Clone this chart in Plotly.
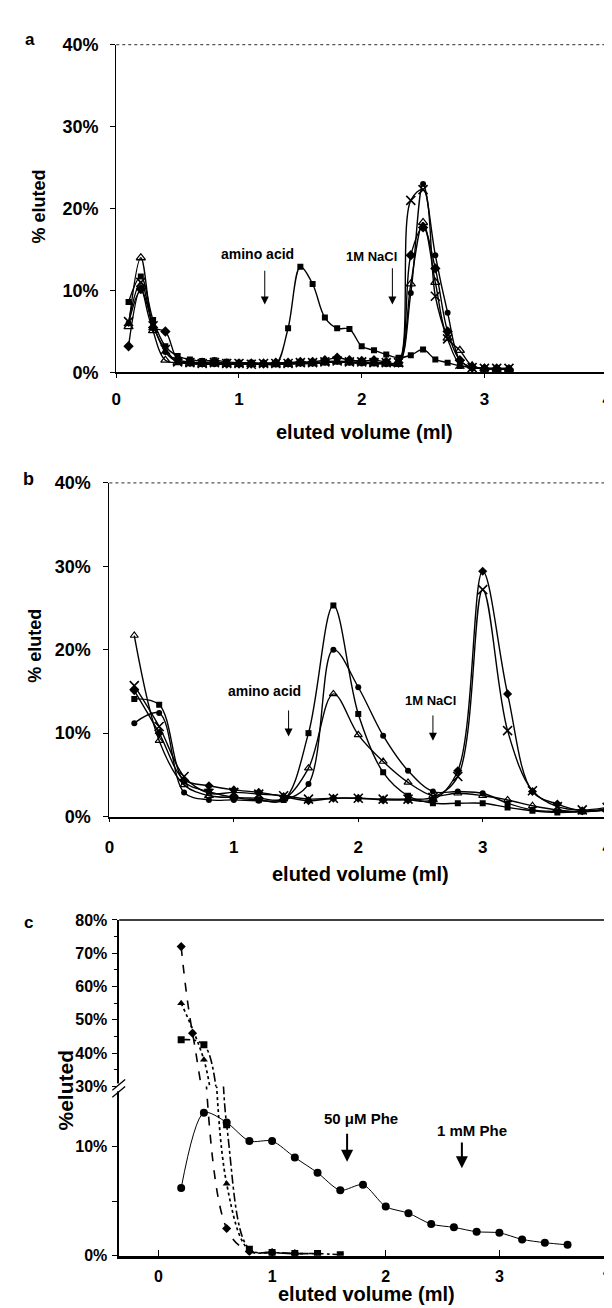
import plotly.graph_objects as go

W, H = 612, 1308

# ---------------- data ----------------
# panel a
a_x = [0.1, 0.2, 0.3, 0.4, 0.5, 0.6, 0.7, 0.8, 0.9, 1.0, 1.1, 1.2, 1.3, 1.4, 1.5, 1.6,
       1.7, 1.8, 1.9, 2.0, 2.1, 2.2, 2.3, 2.4, 2.5, 2.6, 2.7, 2.8, 2.9, 3.0, 3.1, 3.2]
a_square = [8.6, 11.7, 6.4, 3.2, 2.0, 1.6, 1.4, 1.5, 1.3, 1.2, 1.2, 1.1, 1.0, 5.4, 12.9, 10.8,
            6.7, 5.4, 5.3, 3.2, 2.7, 2.2, 1.8, 2.1, 2.8, 1.6, 1.2, 0.8, 0.6, 0.5, 0.5, 0.5]
a_diamond = [3.2, 10.2, 5.5, 5.0, 1.6, 1.3, 1.2, 1.3, 1.1, 1.1, 1.1, 1.1, 1.2, 1.2, 1.3, 1.3,
             1.5, 1.8, 1.5, 1.4, 1.5, 1.3, 1.2, 14.3, 17.7, 12.7, 5.0, 1.5, 0.6, 0.5, 0.5, 0.4]
a_triangle = [5.6, 14.0, 5.1, 1.5, 1.2, 1.1, 1.0, 1.1, 1.0, 1.0, 1.0, 1.0, 1.0, 1.0, 1.1, 1.1,
              1.2, 1.3, 1.2, 1.2, 1.1, 1.1, 1.0, 10.8, 18.3, 11.0, 4.2, 2.7, 0.8, 0.5, 0.4, 0.4]
a_cross = [6.2, 11.0, 5.7, 2.8, 1.3, 1.2, 1.1, 1.2, 1.1, 1.1, 1.0, 1.1, 1.1, 1.1, 1.2, 1.2,
           1.3, 1.4, 1.3, 1.3, 1.2, 1.2, 1.2, 21.0, 22.3, 9.3, 4.1, 1.0, 0.6, 0.5, 0.5, 0.5]
a_circle = [6.0, 10.0, 5.8, 2.5, 1.3, 1.1, 1.0, 1.0, 1.0, 1.0, 1.0, 1.0, 1.0, 1.0, 1.1, 1.1,
            1.2, 1.3, 1.2, 1.1, 1.1, 1.0, 1.0, 9.7, 23.0, 14.3, 7.3, 1.5, 0.6, 0.5, 0.4, 0.4]

# panel b
b_x = [0.2, 0.4, 0.6, 0.8, 1.0, 1.2, 1.4, 1.6, 1.8, 2.0, 2.2, 2.4, 2.6, 2.8, 3.0, 3.2, 3.4, 3.6, 3.8, 4.0]
b_square = [14.1, 13.4, 4.2, 3.0, 2.3, 2.0, 2.0, 10.0, 25.3, 12.3, 5.3, 2.5, 1.6, 1.6, 1.6, 1.1, 0.7, 0.5, 0.6, 0.8]
b_circle = [11.2, 12.4, 2.9, 2.0, 2.0, 1.9, 2.0, 3.9, 20.0, 15.5, 9.7, 5.5, 3.0, 3.0, 2.8, 1.6, 0.8, 0.6, 0.6, 0.8]
b_triangle = [21.7, 9.1, 3.8, 2.5, 2.3, 2.2, 2.1, 5.8, 14.7, 9.8, 6.6, 4.1, 2.5, 2.8, 2.5, 2.0, 1.3, 0.8, 0.6, 0.8]
b_diamond = [15.1, 10.0, 4.4, 3.7, 3.2, 2.9, 2.4, 1.9, 2.2, 2.2, 2.0, 2.0, 2.0, 5.5, 29.4, 14.7, 3.0, 1.5, 0.7, 0.9]
b_cross = [15.7, 10.8, 4.8, 2.8, 2.9, 2.7, 2.5, 2.1, 2.2, 2.2, 2.1, 2.1, 2.3, 4.8, 27.2, 10.3, 3.1, 1.2, 0.8, 1.1]

# panel c
c_circle_x = [0.2, 0.4, 0.6, 0.8, 1.0, 1.2, 1.4, 1.6, 1.8, 2.0, 2.2, 2.4, 2.6, 2.8, 3.0, 3.2, 3.4, 3.6]
c_circle = [6.2, 13.1, 12.2, 10.5, 10.5, 9.0, 7.6, 6.0, 6.5, 4.5, 3.9, 2.9, 2.6, 2.2, 2.1, 1.5, 1.2, 1.0]
c_diamond_x = [0.2, 0.3, 0.6, 0.8, 1.0, 1.2]
c_diamond = [72.0, 46.0, 2.5, 0.4, 0.3, 0.2]
c_triangle_x = [0.2, 0.4, 0.6, 0.8, 1.0, 1.2, 1.4]
c_triangle = [55.0, 38.0, 6.6, 0.5, 0.3, 0.2, 0.2]
c_square_x = [0.2, 0.4, 0.6, 0.8, 1.0, 1.2, 1.4, 1.6]
c_square = [44.0, 42.5, 12.0, 0.6, 0.3, 0.2, 0.2, 0.1]

ab_ticks = [0, 10, 20, 30, 40]
ab_ticktext = ["0%", "10%", "20%", "30%", "40%"]
c_low_ticks = [0, 5, 10]
c_low_text = ["0%", "", "10%"]
c_up_ticks = [30, 40, 50, 60, 70, 80]
c_up_text = ["30%", "40%", "50%", "60%", "70%", "80%"]
x_ticks = [0, 1, 2, 3, 4]
c_x_ticks = [0, 1, 2, 3, 4]
c_x_text = ["0", "1", "2", "3", ""]   # last label drawn separately so it stays inside the page

FONT = "Liberation Sans, Arial, sans-serif"


def X(p):
    return p / W


def Y(p):
    return 1 - p / H


fig = go.Figure()


def add(xs, ys, xa, ya, symbol, size, dash="solid", width=1.4, mline=0.0, smooth=1.0):
    fig.add_trace(go.Scatter(
        x=xs, y=ys, xaxis=xa, yaxis=ya, mode="lines+markers",
        line=dict(color="black", width=width, shape="spline", smoothing=smooth, dash=dash),
        marker=dict(symbol=symbol, size=size, color="black",
                    line=dict(color="black", width=mline)),
        showlegend=False, hoverinfo="skip"))


# panel a
add(a_x, a_square, "x", "y", "square", 6)
add(a_x, a_diamond, "x", "y", "diamond", 8)
add(a_x, a_triangle, "x", "y", "triangle-up-open", 8, mline=1.3)
add(a_x, a_cross, "x", "y", "x-thin", 9, mline=1.6)
add(a_x, a_circle, "x", "y", "circle", 6)

# panel b
add(b_x, b_square, "x2", "y2", "square", 6)
add(b_x, b_circle, "x2", "y2", "circle", 6)
add(b_x, b_triangle, "x2", "y2", "triangle-up-open", 7, mline=1.2)
add(b_x, b_diamond, "x2", "y2", "diamond", 7)
add(b_x, b_cross, "x2", "y2", "x-thin", 9, mline=1.6)

# panel c (broken axis: each series drawn on the lower and the upper segment)
for ya in ("y3", "y4"):
    add(c_diamond_x, c_diamond, "x3", ya, "diamond", 7, dash="dash", width=1.6)
    add(c_triangle_x, c_triangle, "x3", ya, "triangle-up", 7, dash="dot", width=1.7)
    add(c_square_x, c_square, "x3", ya, "square", 7, dash="dashdot", width=1.6)
add(c_circle_x, c_circle, "x3", "y3", "circle", 8, width=1.0, smooth=0.8)

ytick_font = dict(family=FONT, size=18, color="black", weight="bold")
xtick_font = dict(family=FONT, size=17, color="black", weight="bold")
c_tick_font = dict(family=FONT, size=16, color="black", weight="bold")

common = dict(showgrid=False, zeroline=False, showline=True, linecolor="black",
              ticks="outside", tickcolor="black", fixedrange=True, ticklabeloverflow="allow")

fig.update_layout(
    width=W, height=H, margin=dict(l=0, r=0, t=0, b=0),
    paper_bgcolor="white", plot_bgcolor="white", showlegend=False,
    xaxis=dict(domain=[X(105), X(604)], range=[0, 4], anchor="y", tickvals=x_ticks,
               ticklen=4, linewidth=1.5, tickfont=xtick_font, ticklabelstandoff=6, **common),
    yaxis=dict(domain=[Y(360), Y(27)], range=[0, 40], anchor="x", tickvals=ab_ticks,
               ticktext=ab_ticktext, ticklen=5, linewidth=1.2, tickfont=ytick_font,
               ticklabelstandoff=8, **common),
    xaxis2=dict(domain=[X(98), X(604)], range=[0, 4], anchor="y2", tickvals=x_ticks,
                ticklen=4, linewidth=1.5, tickfont=xtick_font, ticklabelstandoff=10, **common),
    yaxis2=dict(domain=[Y(811), Y(472)], range=[0, 40], anchor="x2", tickvals=ab_ticks,
                ticktext=ab_ticktext, ticklen=5, linewidth=1.2, tickfont=ytick_font,
                ticklabelstandoff=9, **common),
    xaxis3=dict(domain=[X(108), X(610)], range=[-0.345, 4.0], anchor="y3", tickvals=c_x_ticks,
                ticktext=c_x_text,
                showgrid=False, zeroline=False, showline=True, linecolor="black", linewidth=2.5,
                ticks="inside", ticklen=6, tickcolor="black", tickfont=c_tick_font,
                ticklabelstandoff=4, fixedrange=True, ticklabeloverflow="allow"),
    yaxis3=dict(domain=[Y(1257), Y(1085)], range=[0, 15.5], anchor="x3", tickvals=c_low_ticks,
                ticktext=c_low_text, ticklen=5, linewidth=1.5, tickfont=c_tick_font,
                ticklabelstandoff=2, **common),
    yaxis4=dict(domain=[Y(1085), Y(916)], range=[30, 80], anchor="x3", tickvals=c_up_ticks,
                ticktext=c_up_text, ticklen=5, linewidth=1.5, tickfont=c_tick_font,
                ticklabelstandoff=2,
                minor=dict(tickvals=[35, 45, 55, 65, 75], ticks="outside", ticklen=3,
                           tickcolor="black"),
                **common),
)

shapes = []
# dotted plot-area borders (a, b)
for xr, yr in (("x", "y"), ("x2", "y2")):
    shapes.append(dict(type="line", xref=xr + " domain", yref=yr + " domain", x0=0, x1=1, y0=1, y1=1,
                       line=dict(color="#555", width=1.2, dash="dot")))
    shapes.append(dict(type="line", xref=xr + " domain", yref=yr + " domain", x0=1, x1=1, y0=0, y1=1,
                       line=dict(color="#555", width=1.2, dash="dot")))
# solid frame for c
shapes.append(dict(type="line", xref="paper", yref="paper", x0=X(108), x1=X(610), y0=Y(916), y1=Y(916),
                   line=dict(color="black", width=1.3)))
shapes.append(dict(type="line", xref="paper", yref="paper", x0=X(610), x1=X(610), y0=Y(1257), y1=Y(916),
                   line=dict(color="black", width=1.3)))
# axis break marks
shapes.append(dict(type="rect", xref="paper", yref="paper", x0=X(105), x1=X(111), y0=Y(1090), y1=Y(1082),
                   fillcolor="white", line=dict(width=0)))
shapes.append(dict(type="line", xref="paper", yref="paper", x0=X(101), x1=X(114), y0=Y(1089), y1=Y(1078),
                   line=dict(color="black", width=1.3)))
shapes.append(dict(type="line", xref="paper", yref="paper", x0=X(101), x1=X(114), y0=Y(1096), y1=Y(1085),
                   line=dict(color="black", width=1.3)))
fig.update_layout(shapes=shapes)

ann = []


def label(text, px, py, size, angle=0, xanchor="center"):
    ann.append(dict(text=text, x=X(px), y=Y(py), xref="paper", yref="paper", showarrow=False,
                    textangle=angle, xanchor=xanchor, yanchor="middle",
                    font=dict(family=FONT, size=size, color="black", weight="bold")))


label("a", 17, 22, 17)
label("b", 16, 468, 18)
label("c", 16, 919, 17)
label("% eluted", 27, 192, 18, -90)
label("% eluted", 23, 638, 18, -90)
label("%eluted", 53, 1089, 21, -90)
label("eluted volume (ml)", 357, 420, 20)
label("eluted volume (ml)", 353, 869, 20)
label("eluted volume (ml)", 359, 1296, 20)
label("4", 611, 1273, 16, xanchor="right")   # last x tick label of panel c, kept inside the page


def arrow(xr, yr, x, ytop, ytip, width=1.0, size=1.6):
    ann.append(dict(x=x, y=ytip, ax=x, ay=ytop, xref=xr, yref=yr, axref=xr, ayref=yr,
                    text="", showarrow=True, arrowhead=2, arrowsize=size, arrowwidth=width,
                    arrowcolor="black"))


def note(xr, yr, x, y, text, size):
    ann.append(dict(x=x, y=y, xref=xr, yref=yr, text=text, showarrow=False,
                    xanchor="center", yanchor="middle",
                    font=dict(family=FONT, size=size, color="black", weight="bold")))


# panel a: eluent changes
arrow("x", "y", 1.21, 12.6, 8.3)
note("x", "y", 1.15, 14.5, "amino acid", 14)
arrow("x", "y", 2.25, 12.9, 8.3)
note("x", "y", 2.08, 14.1, "1M NaCl", 13)
# panel b
arrow("x2", "y2", 1.44, 12.9, 9.6)
note("x2", "y2", 1.25, 15.1, "amino acid", 14)
arrow("x2", "y2", 2.6, 12.3, 9.1)
note("x2", "y2", 2.58, 13.9, "1M NaCl", 13)
# panel c
arrow("x3", "y3", 1.66, 11.3, 8.6, width=2, size=1.2)
note("x3", "y3", 1.78, 12.6, "50 \u03bcM Phe", 15)
arrow("x3", "y3", 2.67, 10.5, 8.0, width=2, size=1.2)
note("x3", "y3", 2.76, 11.5, "1 mM Phe", 15)

fig.update_layout(annotations=ann)

fig.write_html("out.html")
